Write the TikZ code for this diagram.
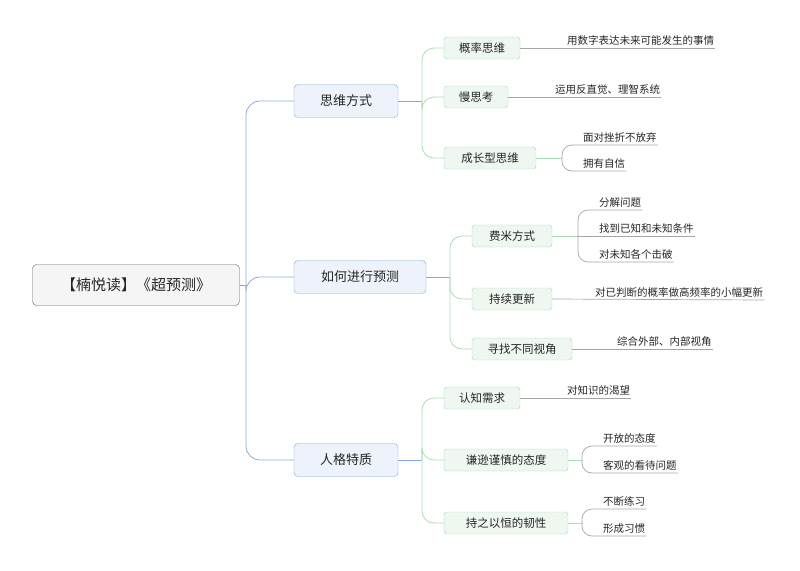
\documentclass[tikz,border=0pt]{standalone}
\usepackage{fontspec}
\setmainfont{Noto Sans CJK SC}
\definecolor{bfill}{HTML}{EEF3FB}
\definecolor{bdraw}{HTML}{7DA7D9}
\definecolor{gfill}{HTML}{EEF7F0}
\definecolor{gdraw}{HTML}{A6DBB2}
\definecolor{bline}{HTML}{88ACD6}
\definecolor{gline}{HTML}{A9DDB5}
\begin{document}
\begin{tikzpicture}[x=1pt,y=-1pt,
  rootbox/.style={draw=black!60,fill=black!4,rounded corners=4pt,minimum width=207pt,minimum height=41pt,font=\fontsize{15}{18}\selectfont,text=black!85},
  lone/.style={draw=bdraw,fill=bfill,rounded corners=4pt,minimum height=33pt,inner xsep=10pt,font=\fontsize{13}{16}\selectfont,text=black!85},
  ltwo/.style={draw=gdraw,fill=gfill,rounded corners=3pt,minimum height=22pt,inner xsep=8pt,font=\fontsize{11.5}{14}\selectfont,text=black!85},
  leaf/.style={anchor=south west,inner xsep=1pt,inner ysep=2pt,font=\fontsize{10.5}{12}\selectfont,text=black!85},
  bl/.style={draw=bline,line width=0.8pt,rounded corners=14pt},
  gl/.style={draw=gline,line width=0.8pt,rounded corners=12pt},
  ul/.style={draw=black!35,line width=0.7pt,rounded corners=10pt}]
\useasboundingbox (0,0) rectangle (800,570);
\node[rootbox] (root) at (136,285) {【楠悦读】《超预测》};
\node[lone,minimum width=104pt] (a) at (346,101) {思维方式};
\node[lone,minimum width=132pt] (b) at (360,277) {如何进行预测};
\node[lone,minimum width=104pt] (c) at (346,460) {人格特质};
\coordinate (t) at (246,285);
\draw[bl] (root.east) -- (t);
\foreach \n in {a,b,c} \draw[bl] (t) |- (\n.west);
% level 2
\node[ltwo,minimum width=76pt] (a1) at (482,48) {概率思维};
\node[ltwo,minimum width=64pt] (a2) at (476,97) {慢思考};
\node[ltwo,minimum width=92pt] (a3) at (490,158) {成长型思维};
\node[ltwo,minimum width=80pt] (b1) at (512,236) {费米方式};
\node[ltwo,minimum width=80pt] (b2) at (512,299) {持续更新};
\node[ltwo,minimum width=100pt] (b3) at (522,349) {寻找不同视角};
\node[ltwo,minimum width=76pt] (c1) at (482,398) {认知需求};
\node[ltwo,minimum width=124pt] (c2) at (506,460) {谦逊谨慎的态度};
\node[ltwo,minimum width=124pt] (c3) at (506,523) {持之以恒的韧性};
\coordinate (ta) at (422,101);
\coordinate (tb) at (450,277);
\coordinate (tc) at (422,460);
\draw[bl] (a.east) -- (ta);
\draw[bl] (b.east) -- (tb);
\draw[bl] (c.east) -- (tc);
\foreach \n in {a1,a2,a3} \draw[gl] (ta) |- (\n.west);
\foreach \n in {b1,b2,b3} \draw[gl] (tb) |- (\n.west);
\foreach \n in {c1,c2,c3} \draw[gl] (tc) |- (\n.west);
% leaves single
\node[leaf] (a1l) at (566,48) {用数字表达未来可能发生的事情};
\node[leaf] (a2l) at (554,97) {运用反直觉、理智系统};
\node[leaf] (b2l) at (594,300) {对已判断的概率做高频率的小幅更新};
\node[leaf] (b3l) at (616,349) {综合外部、内部视角};
\node[leaf] (c1l) at (566,398) {对知识的渴望};
\foreach \p/\l in {a1/a1l,a2/a2l,b2/b2l,b3/b3l,c1/c1l} \draw[ul] (\p.east) -- (\l.south east);
% multi leaves
\node[leaf] (a3x) at (582,145) {面对挫折不放弃};
\node[leaf] (a3y) at (582,171) {拥有自信};
\node[leaf] (b1x) at (598,210) {分解问题};
\node[leaf] (b1y) at (598,236) {找到已知和未知条件};
\node[leaf] (b1z) at (598,262) {对未知各个击破};
\node[leaf] (c2x) at (602,446) {开放的态度};
\node[leaf] (c2y) at (602,473) {客观的看待问题};
\node[leaf] (c3x) at (602,509) {不断练习};
\node[leaf] (c3y) at (602,536) {形成习惯};
\coordinate (ja) at (562,158);
\coordinate (jb) at (578,236);
\coordinate (jc) at (582,460);
\coordinate (jd) at (582,523);
\draw[gl] (a3.east) -- (ja);
\draw[gl] (b1.east) -- (jb);
\draw[gl] (c2.east) -- (jc);
\draw[gl] (c3.east) -- (jd);
\foreach \l in {a3x,a3y} \draw[ul] (ja) |- (\l.south west) -- (\l.south east);
\foreach \l in {b1x,b1z} \draw[ul] (jb) |- (\l.south west) -- (\l.south east);
\draw[ul] (jb) -- (b1y.south east);
\foreach \l in {c2x,c2y} \draw[ul] (jc) |- (\l.south west) -- (\l.south east);
\foreach \l in {c3x,c3y} \draw[ul] (jd) |- (\l.south west) -- (\l.south east);
\end{tikzpicture}
\end{document}
